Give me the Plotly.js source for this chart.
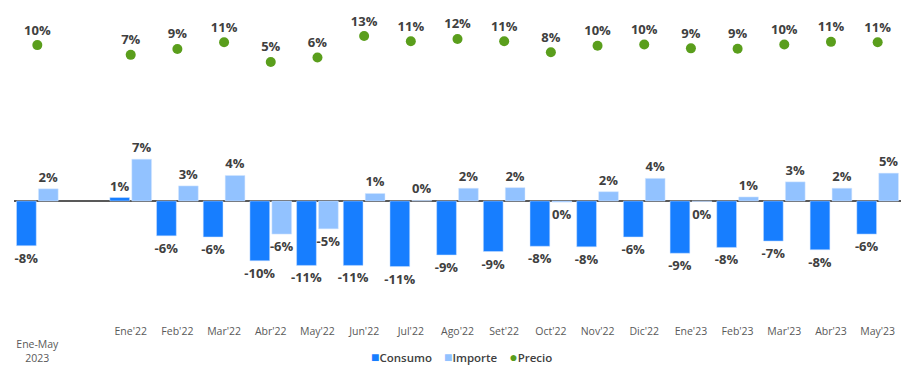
<!DOCTYPE html>
<html>
<head>
<meta charset="utf-8">
<script src="https://cdn.plot.ly/plotly-3.0.1.min.js"></script>
<style>html,body{margin:0;padding:0;background:#fff;}#chart{width:907px;height:367px;}</style>
</head>
<body>
<div id="chart"></div>
<script>
const categories = [" <br>Ene-May<br>2023", " ", "Ene'22", "Feb'22", "Mar'22", "Abr'22", "May'22", "Jun'22", "Jul'22", "Ago'22", "Set'22", "Oct'22", "Nov'22", "Dic'22", "Ene'23", "Feb'23", "Mar'23", "Abr'23", "May'23"];
const consumo = [-7.7, null, 0.6, -6.0, -6.2, -10.3, -11.1, -11.1, -11.3, -9.3, -8.7, -7.8, -7.9, -6.2, -9.0, -8.0, -6.9, -8.4, -5.7];
const importe = [2.1, null, 7.2, 2.6, 4.4, -5.7, -4.8, 1.3, 0.1, 2.2, 2.3, -0.2, 1.6, 3.9, -0.1, 0.7, 3.3, 2.2, 4.8];
const precio = [10.2, null, 7.2, 9.0, 11.1, 5.0, 6.4, 13.0, 11.4, 12.1, 11.4, 8.0, 10.0, 10.4, 9.2, 9.1, 10.4, 11.2, 11.1];
const seriesNames = ["Consumo", "Importe", "Precio"];
const seriesColors = ["#177EFF", "#92C2FF", "#5A9E1C"];

const labelFont = {family: "Open Sans, sans-serif", size: 13, color: "#404040", weight: 700};
function pct(arr){ return arr.map(v => v === null ? "" : Math.round(v) + "%"); }

const traces = [
  {type: "bar", name: seriesNames[0], x: categories, y: consumo,
   marker: {color: seriesColors[0], line: {color: "#cfe3ff", width: 0.5}},
   text: pct(consumo), textposition: "outside", textfont: labelFont, cliponaxis: false,
   constraintext: "none", hoverinfo: "skip"},
  {type: "bar", name: seriesNames[1], x: categories, y: importe,
   marker: {color: seriesColors[1], line: {color: "#d8e9ff", width: 0.5}},
   text: pct(importe), textposition: "outside", textfont: labelFont, cliponaxis: false,
   constraintext: "none", hoverinfo: "skip"},
  {type: "scatter", mode: "markers+text", name: seriesNames[2], x: categories, y: precio, yaxis: "y2",
   marker: {color: seriesColors[2], size: 10},
   text: pct(precio), textposition: "top center", textfont: labelFont, cliponaxis: false,
   hoverinfo: "skip"}
];

const symbols = ["■", "■", "●"];
const legendText = seriesNames.map((n, i) =>
  "<span style='color:" + seriesColors[i] + ";font-size:14px'>" + symbols[i] + "</span>" + n).join("&nbsp;&nbsp;&nbsp;&nbsp;");

const layout = {
  width: 907, height: 367,
  margin: {l: 14, r: 6, t: 10, b: 47, autoexpand: false},
  paper_bgcolor: "#fff", plot_bgcolor: "#fff",
  barmode: "group", bargap: 0.06, bargroupgap: 0.1,
  showlegend: false,
  annotations: [{xref: "paper", yref: "paper", x: 0.5045, y: -0.119, xanchor: "center", yanchor: "middle",
                 showarrow: false, text: legendText,
                 font: {family: "Open Sans, sans-serif", size: 11.5, color: "#404040", weight: 600}}],
  xaxis: {type: "category", range: [-0.5, 18.5], showgrid: false, zeroline: false, showline: false, ticks: "",
          tickfont: {family: "Open Sans, sans-serif", size: 10.5, color: "#595959"},
          tickangle: 0, automargin: false, ticklabelstandoff: 3},
  yaxis: {range: [-20.5, 32.9], showgrid: false, zeroline: true, zerolinecolor: "#595959",
          zerolinewidth: 1.3, showticklabels: false, ticks: "", showline: false, automargin: false},
  yaxis2: {range: [-74.4, 21], overlaying: "y", side: "right", showgrid: false, zeroline: false,
           showticklabels: false, ticks: "", showline: false, automargin: false},
  font: {family: "Open Sans, sans-serif"}
};

Plotly.newPlot("chart", traces, layout, {displayModeBar: false, staticPlot: true});
</script>
</body>
</html>
